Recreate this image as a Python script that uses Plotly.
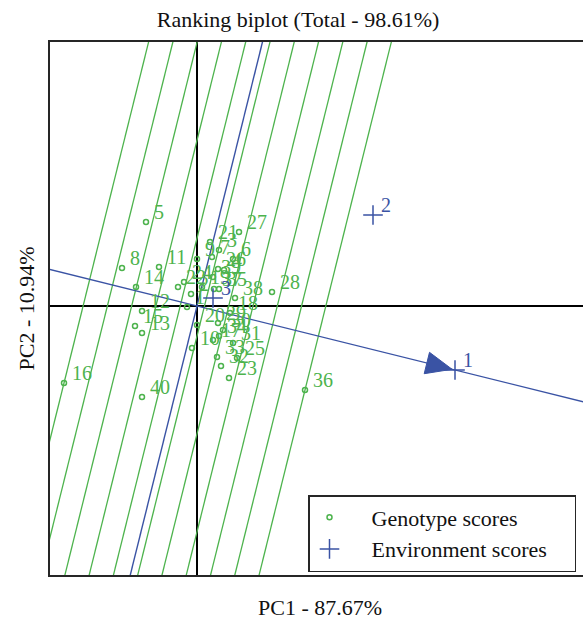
import numpy as np
import plotly.graph_objects as go

# ---------------- data ----------------
gen_labels = ["1", "2", "3", "4", "5", "6", "7", "8", "9", "10",
              "11", "12", "13", "14", "15", "16", "17", "18", "19", "20",
              "21", "22", "23", "24", "25", "26", "27", "28", "29", "30",
              "31", "32", "33", "34", "35", "36", "37", "38", "39", "40"]
gen_pc1 = [-0.20, -0.12, 0.44, 0.54, -1.02, 0.72, 0.30, -1.50, 0.00, -0.10,
           -0.76, -1.10, -1.10, -1.22, -1.24, -2.66, 0.32, 0.66, 0.10, 0.00,
           0.26, -0.38, 0.64, -0.26, 0.80, 0.42, 0.84, 1.50, 0.42, 0.52,
           0.72, 0.48, 0.40, 0.44, 0.44, 2.16, 0.34, 0.76, 0.32, -1.10]
gen_pc2 = [-0.02, 0.24, 1.12, 0.72, 1.68, 0.94, 0.98, 0.76, 0.94, -0.84,
           0.78, -0.10, -0.54, 0.38, -0.40, -1.54, -0.68, -0.14, 0.38, -0.38,
           1.28, 0.38, -1.44, 0.48, -1.04, 0.74, 1.48, 0.28, -0.34, -0.48,
           -0.74, -1.20, -1.02, -0.60, 0.34, -1.68, 0.34, 0.16, 0.58, -1.82]

env_labels = ["1", "2", "3"]
env_pc1 = [5.16, 3.52, 0.32]
env_pc2 = [-1.28, 1.82, 0.16]

title_text = "Ranking biplot (Total - 98.61%)"
x_title = "PC1 - 87.67%"
y_title = "PC2 - 10.94%"
legend_names = ["Genotype scores", "Environment scores"]

# ---------------- styles ----------------
GREEN = "#4db34d"
BLUE = "#3a53a4"
FONT = "Liberation Serif, Times New Roman, serif"
NB = "\u00a0"
FIG_W, FIG_H = 596, 622

gx = np.array(gen_pc1)
gy = np.array(gen_pc2)

# ranking axis through the origin and the selected environment (env 1)
e1 = np.array([env_pc1[0], env_pc2[0]])
u = e1 / np.linalg.norm(e1)
v = np.array([-u[1], u[0]])
L = 40.0

# perpendicular guide lines, evenly spaced between extreme genotype projections
proj = gx * u[0] + gy * u[1]
steps = np.linspace(proj.min(), proj.max(), 11)
lx, ly = [], []
for t in steps:
    c = t * u
    lx += [c[0] - L * v[0], c[0] + L * v[0], None]
    ly += [c[1] - L * v[1], c[1] + L * v[1], None]

fig = go.Figure()

fig.add_trace(go.Scatter(x=lx, y=ly, mode="lines",
                         line=dict(color=GREEN, width=1.3),
                         showlegend=False, hoverinfo="skip"))
# environment axis and its perpendicular through origin
fig.add_trace(go.Scatter(x=[-L * u[0], L * u[0]], y=[-L * u[1], L * u[1]],
                         mode="lines", line=dict(color=BLUE, width=1.4),
                         showlegend=False, hoverinfo="skip"))
fig.add_trace(go.Scatter(x=[-L * v[0], L * v[0]], y=[-L * v[1], L * v[1]],
                         mode="lines", line=dict(color=BLUE, width=1.4),
                         showlegend=False, hoverinfo="skip"))

# arrow head pointing at env 1
tip = e1 - u * 0.06
base = tip - u * 0.52
hw = 0.22
fig.add_trace(go.Scatter(
    x=[tip[0], base[0] + hw * v[0], base[0] - hw * v[0], tip[0]],
    y=[tip[1], base[1] + hw * v[1], base[1] - hw * v[1], tip[1]],
    mode="lines", fill="toself", fillcolor=BLUE,
    line=dict(color=BLUE, width=1), showlegend=False, hoverinfo="skip"))

# genotype scores
fig.add_trace(go.Scatter(x=gen_pc1, y=gen_pc2, mode="markers",
                         name=NB * 4 + legend_names[0],
                         marker=dict(symbol="circle-open", size=5, color=GREEN,
                                     line=dict(width=1.5, color=GREEN)),
                         text=gen_labels))
# environment scores
fig.add_trace(go.Scatter(x=env_pc1, y=env_pc2, mode="markers",
                         name=NB * 4 + legend_names[1] + NB * 4,
                         marker=dict(symbol="cross-thin", size=14, color=BLUE,
                                     line=dict(width=1.5, color=BLUE)),
                         text=env_labels))

annotations = []
for lab, x, y in zip(gen_labels, gen_pc1, gen_pc2):
    annotations.append(dict(x=x, y=y, xref="x", yref="y", text=lab,
                            showarrow=False, xanchor="left", yanchor="middle",
                            xshift=6, yshift=10,
                            font=dict(family=FONT, size=20, color=GREEN)))
for lab, x, y in zip(env_labels, env_pc1, env_pc2):
    annotations.append(dict(x=x, y=y, xref="x", yref="y", text=lab,
                            showarrow=False, xanchor="left", yanchor="middle",
                            xshift=6, yshift=10,
                            font=dict(family=FONT, size=20, color=BLUE)))

axis_common = dict(showgrid=False, zeroline=True, zerolinecolor="#000000",
                   zerolinewidth=1.6, showticklabels=False, ticks="",
                   showline=True, linecolor="#262626", linewidth=2,
                   automargin=False, fixedrange=True, showspikes=False)

fig.update_layout(
    width=FIG_W, height=FIG_H,
    margin=dict(l=50, r=6, t=42, b=47, autoexpand=False),
    paper_bgcolor="white", plot_bgcolor="white",
    font=dict(family=FONT, color="#111111"),
    hovermode=False,
    title=dict(text=title_text, x=0.5, xanchor="center",
               y=1 - 19 / FIG_H, yanchor="middle", xref="container", yref="container",
               font=dict(family=FONT, size=22, color="#111111")),
    xaxis=dict(range=[-2.94, 7.86], mirror=True,
               title=dict(text=x_title, standoff=24,
                          font=dict(family=FONT, size=22, color="#111111")),
               **axis_common),
    yaxis=dict(range=[-5.38, 5.28], mirror=False,
               title=dict(text=y_title, standoff=7,
                          font=dict(family=FONT, size=22, color="#111111")),
               **axis_common),
    legend=dict(xref="container", yref="container",
                x=308 / FIG_W, y=1 - 495 / FIG_H, xanchor="left", yanchor="top",
                bgcolor="white", bordercolor="#262626", borderwidth=1.5,
                font=dict(family=FONT, size=22, color="#111111"),
                itemwidth=30),
    annotations=annotations,
    showlegend=True,
)

fig.write_html("out.html",
               config={"displayModeBar": False, "staticPlot": True},
               post_script=("document.body.style.margin='0px';"
                            "document.body.style.overflow='hidden';"
                            "document.documentElement.style.overflow='hidden';"))
